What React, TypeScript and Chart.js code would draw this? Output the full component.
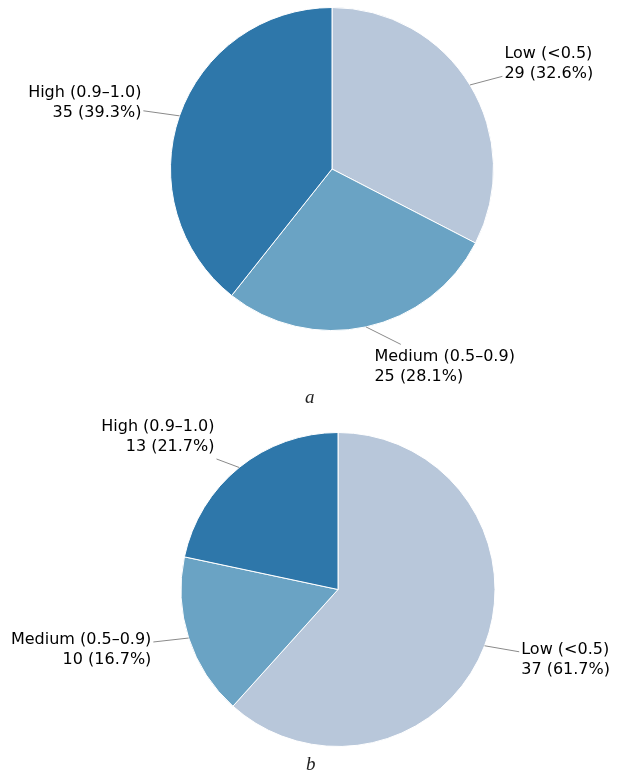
import React, { useEffect, useRef } from "react";
import { Chart, registerables } from "chart.js";

Chart.register(...registerables);

const categories = ["Low (<0.5)", "Medium (0.5–0.9)", "High (0.9–1.0)"];
const valuesA = [29, 25, 35];
const valuesB = [37, 10, 13];
const captions = ["a", "b"];
const colors = ["#b8c7da", "#6aa3c4", "#2e77aa"];

const FONT = "16px 'DejaVu Sans'";
const LINE_H = 20;

const labelPlugin = {
  id: "pieLabels",
  afterDraw(chart: any) {
    const ctx = chart.ctx;
    const meta = chart.getDatasetMeta(0);
    const data: number[] = chart.data.datasets[0].data;
    const total = data.reduce((a, b) => a + b, 0);
    ctx.save();
    ctx.font = FONT;
    meta.data.forEach((arc: any, i: number) => {
      const { x, y, outerRadius, startAngle, endAngle } = arc.getProps(
        ["x", "y", "outerRadius", "startAngle", "endAngle"],
        true
      );
      const mid = (startAngle + endAngle) / 2;
      const cos = Math.cos(mid);
      const sin = Math.sin(mid);
      const px = x + outerRadius * cos;
      const py = y + outerRadius * sin;
      const ax = x + outerRadius * 1.25 * cos;
      const ay = y + outerRadius * 1.25 * sin;
      const right = cos >= 0;
      const lines = [
        String(chart.data.labels[i]),
        `${data[i]} (${((data[i] / total) * 100).toFixed(1)}%)`,
      ];
      const w = Math.max(...lines.map((l) => ctx.measureText(l).width));
      const h = lines.length * LINE_H;
      const x0 = right ? ax : ax - w;
      const x1 = x0 + w;
      const y0 = ay - h / 2;
      const y1 = ay + h / 2;
      const pad = 2;
      const cx = (x0 + x1) / 2;
      const cy = ay;
      const dx = px - cx;
      const dy = py - cy;
      let t = 1;
      if (dx !== 0) t = Math.min(t, ((dx > 0 ? x1 + pad : x0 - pad) - cx) / dx);
      if (dy !== 0) t = Math.min(t, ((dy > 0 ? y1 + pad : y0 - pad) - cy) / dy);
      const ex = cx + dx * t;
      const ey = cy + dy * t;
      ctx.strokeStyle = "#8a8a8a";
      ctx.lineWidth = 1;
      ctx.beginPath();
      ctx.moveTo(px, py);
      ctx.lineTo(ex, ey);
      ctx.stroke();
      ctx.fillStyle = "#000";
      ctx.textBaseline = "middle";
      ctx.textAlign = right ? "left" : "right";
      lines.forEach((l, k) => {
        const ly = ay + (k - (lines.length - 1) / 2) * LINE_H;
        ctx.fillText(l, right ? x0 : x1, ly);
      });
    });
    ctx.restore();
  },
};

function PieChart({
  values,
  padding,
  top,
}: {
  values: number[];
  padding: { left: number; right: number; top: number; bottom: number };
  top: number;
}) {
  const ref = useRef<HTMLCanvasElement>(null);
  useEffect(() => {
    if (!ref.current) return;
    const chart = new Chart(ref.current, {
      type: "pie",
      data: {
        labels: categories,
        datasets: [
          {
            data: values,
            backgroundColor: colors,
            borderColor: "#ffffff",
            borderWidth: 1,
          },
        ],
      },
      options: {
        animation: false,
        responsive: false,
        layout: { padding },
        plugins: { legend: { display: false }, tooltip: { enabled: false } },
      },
      plugins: [labelPlugin],
    });
    return () => chart.destroy();
  }, []);
  return (
    <canvas
      ref={ref}
      width={619}
      height={390}
      style={{ position: "absolute", left: 0, top, width: 619, height: 390 }}
    />
  );
}

export default function App() {
  const capStyle: React.CSSProperties = {
    position: "absolute",
    fontFamily: "'Liberation Serif', serif",
    fontStyle: "italic",
    fontSize: 19,
    lineHeight: "20px",
    color: "#222",
  };
  return (
    <div
      style={{
        position: "fixed",
        left: 0,
        top: 0,
        width: 619,
        height: 775,
        background: "#fff",
        overflow: "hidden",
      }}
    >
      <PieChart
        values={valuesA}
        top={0}
        padding={{ left: 170, right: 125, top: 7, bottom: 59 }}
      />
      <PieChart
        values={valuesB}
        top={385}
        padding={{ left: 180, right: 123, top: 47, bottom: 28 }}
      />
      <div style={{ ...capStyle, left: 305, top: 387 }}>{captions[0]}</div>
      <div style={{ ...capStyle, left: 306, top: 754 }}>{captions[1]}</div>
    </div>
  );
}
